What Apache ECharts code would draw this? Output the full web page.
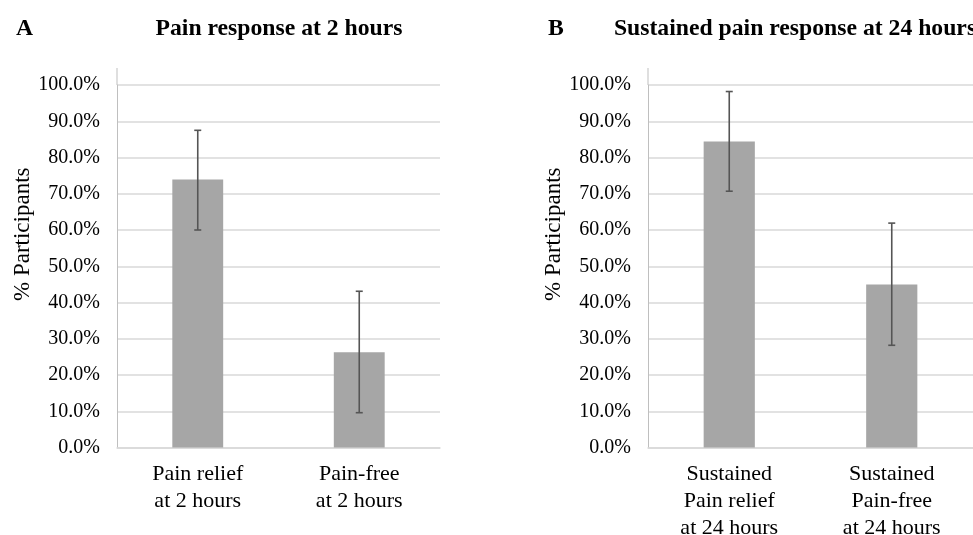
<!DOCTYPE html>
<html><head><meta charset="utf-8">
<script src="https://cdn.jsdelivr.net/npm/echarts@6/dist/echarts.min.js"></script>
<style>html,body{margin:0;padding:0;background:#fff}#c{width:973px;height:535px}</style>
</head><body><div id="c"></div>
<script>
// Data
const catsA = ['Pain relief\nat 2 hours', 'Pain-free\nat 2 hours'];
const valsA = [73.9, 26.3];
const lowA  = [60.0, 9.6];
const highA = [87.5, 43.1];

const catsB = ['Sustained\nPain relief\nat 24 hours', 'Sustained\nPain-free\nat 24 hours'];
const valsB = [84.4, 45.0];
const lowB  = [70.7, 28.2];
const highB = [98.2, 61.9];

const yTicks = [0,10,20,30,40,50,60,70,80,90,100];

const FONT = '"Liberation Serif","Times New Roman",serif';
const BAR = '#a6a6a6', ERR = '#555555', GRID = '#d9d9d9';

const gridTop = 85, gridH = 362.5;
const grids = [
  {left: 117, top: gridTop, width: 323, height: gridH, outerBoundsMode:'none', containLabel:false},
  {left: 648, top: gridTop, width: 325, height: gridH, outerBoundsMode:'none', containLabel:false}
];

function yAxis(i){
  return {
    type:'value', gridIndex:i, min:yTicks[0], max:yTicks[yTicks.length-1], interval:yTicks[1]-yTicks[0],
    name:'% Participants', nameLocation:'middle', nameGap:82,
    nameTextStyle:{fontFamily:FONT, fontSize:23, color:'#000', padding:[0,0,0,64]},
    axisLine:{show:true, lineStyle:{color:'#bfbfbf', width:1}},
    axisTick:{show:false},
    axisLabel:{fontFamily:FONT, fontSize:20, color:'#000', margin:17, formatter:v=>v.toFixed(1)+'%'},
    splitLine:{lineStyle:{color:GRID, width:1.5}}
  };
}
function xAxis(i, cats){
  return {
    type:'category', gridIndex:i, data:cats,
    axisLine:{show:true, lineStyle:{color:GRID, width:1.5}},
    axisTick:{show:false},
    axisLabel:{fontFamily:FONT, fontSize:22, color:'#000', margin:13, lineHeight:27, interval:0}
  };
}
function errSeries(i, low, high){
  return {
    type:'custom', xAxisIndex:i, yAxisIndex:i, z:5,
    data: low.map((l,k)=>[k, l, high[k]]),
    renderItem:(params, api)=>{
      const x = api.value(0);
      const pLo = api.coord([x, api.value(1)]);
      const pHi = api.coord([x, api.value(2)]);
      const cw = 3.5;
      const style = {stroke:ERR, lineWidth:1.6};
      return {type:'group', children:[
        {type:'line', shape:{x1:pLo[0], y1:pLo[1], x2:pHi[0], y2:pHi[1]}, style},
        {type:'line', shape:{x1:pHi[0]-cw, y1:pHi[1], x2:pHi[0]+cw, y2:pHi[1]}, style},
        {type:'line', shape:{x1:pLo[0]-cw, y1:pLo[1], x2:pLo[0]+cw, y2:pLo[1]}, style}
      ]};
    }
  };
}

const chart = echarts.init(document.getElementById('c'), null, {renderer:'canvas'});
const TS = {fontFamily:FONT, fontSize:23.7, fontWeight:'bold', color:'#000'};
chart.setOption({
  animation:false,
  backgroundColor:'#fff',
  title:[
    {text:'A', left:11, top:12, textStyle:TS},
    {text:'Pain response at 2 hours', left:274, textAlign:'center', top:12, textStyle:TS},
    {text:'B', left:543, top:12, textStyle:TS},
    {text:'Sustained pain response at 24 hours', left:790, textAlign:'center', top:12, textStyle:TS}
  ],
  grid:grids,
  xAxis:[xAxis(0, catsA), xAxis(1, catsB)],
  yAxis:[yAxis(0), yAxis(1)],
  graphic: grids.map(g=>({type:'line', shape:{x1:g.left, y1:g.top-17, x2:g.left, y2:g.top}, style:{stroke:'#bfbfbf', lineWidth:1}})),
  series:[
    {type:'bar', xAxisIndex:0, yAxisIndex:0, data:valsA, barWidth:'31.5%', itemStyle:{color:BAR}},
    errSeries(0, lowA, highA),
    {type:'bar', xAxisIndex:1, yAxisIndex:1, data:valsB, barWidth:'31.5%', itemStyle:{color:BAR}},
    errSeries(1, lowB, highB)
  ]
});
</script></body></html>
